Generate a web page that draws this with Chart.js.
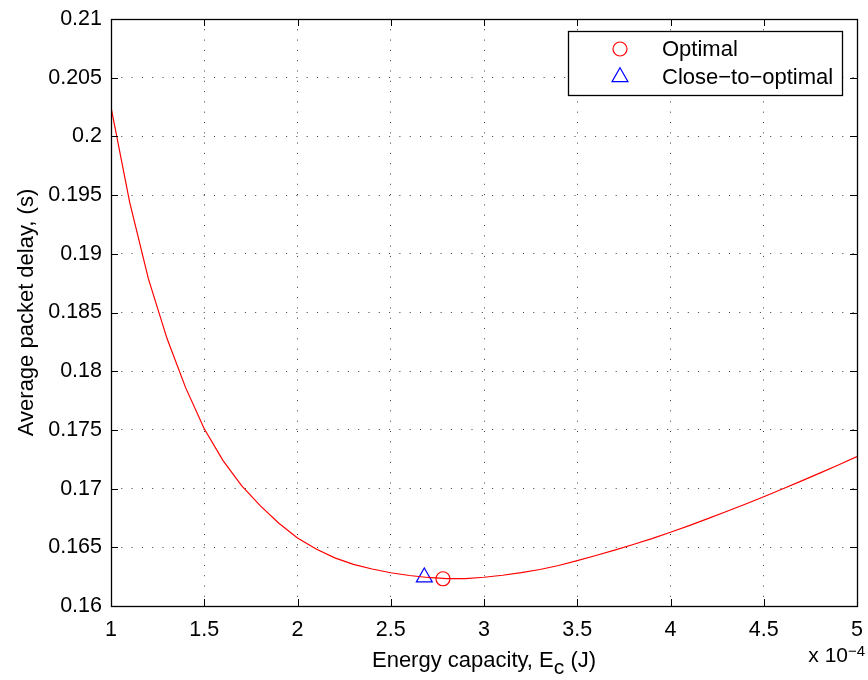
<!DOCTYPE html>
<html>
<head>
<meta charset="utf-8">
<script src="https://cdn.jsdelivr.net/npm/chart.js@4.4.1/dist/chart.umd.min.js"></script>
<style>
  html, body { margin: 0; padding: 0; background: #fff; }
  #wrap { width: 868px; height: 680px; }
</style>
</head>
<body>
<div id="wrap"><canvas id="c" width="868" height="680"></canvas></div>
<script>
// Energy capacity (x 10^-4 J) and the resulting average packet delay (s)
const energy = [1.0, 1.1, 1.2, 1.3, 1.4, 1.5, 1.6, 1.7, 1.8, 1.9,
                2.0, 2.1, 2.2, 2.3, 2.4, 2.5, 2.6, 2.7, 2.8, 2.9,
                3.0, 3.1, 3.2, 3.3, 3.4, 3.5, 3.6, 3.7, 3.8, 3.9,
                4.0, 4.1, 4.2, 4.3, 4.4, 4.5, 4.6, 4.7, 4.8, 4.9, 5.0];
const delay  = [0.2025, 0.1944, 0.1879, 0.1828, 0.1786, 0.1751, 0.1724, 0.17025, 0.16855, 0.16705,
                0.16580, 0.16485, 0.16410, 0.16355, 0.16315, 0.16283, 0.16260, 0.16243, 0.16234, 0.16234,
                0.16245, 0.16262, 0.16284, 0.16311, 0.16345, 0.16386, 0.16430, 0.16476, 0.16524, 0.16574,
                0.16628, 0.16685, 0.16744, 0.16805, 0.16867, 0.16931, 0.16997, 0.17064, 0.17132, 0.17201, 0.17272];

// Operating points
const optimalEnergy = [2.78];
const optimalDelay  = [0.16232];
const closeEnergy   = [2.68];
const closeDelay    = [0.16245];

// Axis ticks
const xTicks = [1, 1.5, 2, 2.5, 3, 3.5, 4, 4.5, 5];
const yTicks = [0.16, 0.165, 0.17, 0.175, 0.18, 0.185, 0.19, 0.195, 0.2, 0.205, 0.21];

const legendLabels = ['Optimal', 'Close\u2212to\u2212optimal'];
const xTitle = ['Energy capacity, E', 'c', ' (J)'];
const yTitle = 'Average packet delay, (s)';
const xMultiplier = ['x 10', '\u22124'];

const FONT = '"Liberation Sans", Arial, Helvetica, sans-serif';
const TICK_PX = 21.5;
const TITLE_PX = 22;

const toPoints = (xs, ys) => xs.map((x, i) => ({ x: x, y: ys[i] }));

// Frame, inward tick marks, axis titles and the legend box
const decorations = {
  id: 'decorations',
  afterDraw(chart) {
    const ctx = chart.ctx;
    const a = chart.chartArea;
    const xs = chart.scales.x, ys = chart.scales.y;
    ctx.save();
    ctx.strokeStyle = '#000';
    ctx.lineWidth = 1;

    // tick marks pointing into the plot on all four sides
    const tl = 7;
    ctx.beginPath();
    xTicks.forEach(v => {
      const px = Math.round(xs.getPixelForValue(v)) + 0.5;
      ctx.moveTo(px, a.bottom); ctx.lineTo(px, a.bottom - tl);
      ctx.moveTo(px, a.top); ctx.lineTo(px, a.top + tl);
    });
    yTicks.forEach(v => {
      const py = Math.round(ys.getPixelForValue(v)) + 0.5;
      ctx.moveTo(a.left, py); ctx.lineTo(a.left + tl, py);
      ctx.moveTo(a.right, py); ctx.lineTo(a.right - tl, py);
    });
    ctx.stroke();

    // axes box
    ctx.lineWidth = 1.3;
    ctx.strokeRect(Math.round(a.left) + 0.5, Math.round(a.top) + 0.5,
                   Math.round(a.right - a.left), Math.round(a.bottom - a.top));

    // x axis title with subscript
    ctx.fillStyle = '#000';
    ctx.textBaseline = 'alphabetic';
    ctx.textAlign = 'left';
    const mainFont = TITLE_PX + 'px ' + FONT;
    const subFont = (TITLE_PX - 1) + 'px ' + FONT;
    ctx.font = mainFont;
    const w0 = ctx.measureText(xTitle[0]).width;
    const w2 = ctx.measureText(xTitle[2]).width;
    ctx.font = subFont;
    const w1 = ctx.measureText(xTitle[1]).width;
    const cx = (a.left + a.right) / 2;
    const sx = cx - (w0 + w1 + w2) / 2;
    const base = 667;
    ctx.font = mainFont;
    ctx.fillText(xTitle[0], sx, base);
    ctx.font = subFont;
    ctx.fillText(xTitle[1], sx + w0, base + 7);
    ctx.font = mainFont;
    ctx.fillText(xTitle[2], sx + w0 + w1, base);

    // x 10^-4 multiplier
    ctx.textAlign = 'right';
    ctx.font = '21px ' + FONT;
    ctx.fillText(xMultiplier[0], 848, 662);
    ctx.textAlign = 'left';
    ctx.font = '15px ' + FONT;
    ctx.fillText(xMultiplier[1], 848, 656);

    // y axis title
    ctx.save();
    ctx.translate(33, (a.top + a.bottom) / 2);
    ctx.rotate(-Math.PI / 2);
    ctx.textAlign = 'center';
    ctx.font = mainFont;
    ctx.fillText(yTitle, 0, 0);
    ctx.restore();

    // legend
    const lx = 568, ly = 31, lw = 274, lh = 64;
    ctx.fillStyle = '#fff';
    ctx.fillRect(lx, ly, lw, lh);
    ctx.lineWidth = 1.3;
    ctx.strokeStyle = '#000';
    ctx.strokeRect(lx + 0.5, ly + 0.5, lw, lh);
    const rows = [49, 77];
    [1, 2].forEach((di, i) => {
      const ds = chart.data.datasets[di];
      ctx.lineWidth = ds.borderWidth;
      ctx.strokeStyle = ds.borderColor;
      ctx.fillStyle = 'rgba(0,0,0,0)';
      Chart.helpers.drawPoint(ctx, { pointStyle: ds.pointStyle, radius: ds.pointRadius, borderWidth: ds.borderWidth }, 620, rows[i]);
      ctx.fillStyle = '#000';
      ctx.font = TITLE_PX + 'px ' + FONT;
      ctx.textAlign = 'left';
      ctx.textBaseline = 'middle';
      ctx.fillText(legendLabels[i], 662, rows[i] + 1);
    });
    ctx.restore();
  }
};

new Chart(document.getElementById('c'), {
  type: 'scatter',
  data: {
    datasets: [
      {
        label: 'delay',
        data: toPoints(energy, delay),
        showLine: true,
        borderColor: '#ff0000',
        borderWidth: 1.2,
        pointRadius: 0,
        tension: 0,
        fill: false
      },
      {
        label: legendLabels[0],
        data: toPoints(optimalEnergy, optimalDelay),
        pointStyle: 'circle',
        pointRadius: 7,
        borderColor: '#ff0000',
        backgroundColor: 'rgba(0,0,0,0)',
        borderWidth: 1.2
      },
      {
        label: legendLabels[1],
        data: toPoints(closeEnergy, closeDelay),
        pointStyle: 'triangle',
        pointRadius: 9.2,
        borderColor: '#0000ff',
        backgroundColor: 'rgba(0,0,0,0)',
        borderWidth: 1.2
      }
    ]
  },
  options: {
    responsive: false,
    animation: false,
    devicePixelRatio: 1,
    layout: { padding: { left: 0, top: 19, right: 11, bottom: 0 } },
    plugins: { legend: { display: false }, tooltip: { enabled: false } },
    scales: {
      x: {
        type: 'linear',
        min: 1, max: 5,
        afterBuildTicks: s => { s.ticks = xTicks.map(v => ({ value: v })); },
        afterFit: s => { s.height = 74; s.paddingLeft = 0; s.paddingRight = 0; },
        ticks: {
          padding: 11,
          color: '#000',
          font: { family: FONT, size: TICK_PX },
          maxRotation: 0,
          autoSkip: false,
          callback: v => String(v)
        },
        grid: { color: '#3a3a3a', lineWidth: 1, drawTicks: false },
        border: { display: false, dash: [1, 9.3] }
      },
      y: {
        type: 'linear',
        min: 0.16, max: 0.21,
        afterBuildTicks: s => { s.ticks = yTicks.map(v => ({ value: v })); },
        afterFit: s => { s.width = 111; s.paddingTop = 0; s.paddingBottom = 0; },
        ticks: {
          padding: 9,
          color: '#000',
          font: { family: FONT, size: TICK_PX },
          autoSkip: false,
          callback: v => String(Math.round(v * 1000) / 1000)
        },
        grid: { color: '#3a3a3a', lineWidth: 1, drawTicks: false },
        border: { display: false, dash: [1, 9.3] }
      }
    }
  },
  plugins: [decorations]
});
</script>
</body>
</html>
